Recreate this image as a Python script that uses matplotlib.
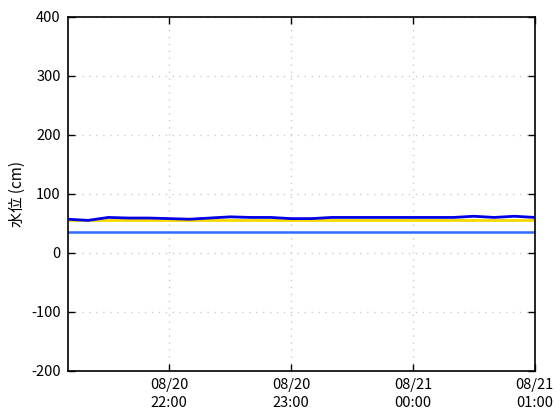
import matplotlib
matplotlib.use("Agg")
import matplotlib.pyplot as plt
import matplotlib.dates as mdates
import pandas as pd

plt.rcParams["font.family"] = ["Noto Sans CJK JP", "DejaVu Sans"]
plt.rcParams["axes.unicode_minus"] = False

# water level readings, every 10 minutes
times = pd.date_range("2023-08-20 21:10", "2023-08-21 01:00", freq="10min")
level = [57, 55, 60, 59, 59, 58, 57, 59, 61, 60, 60, 58,
         58, 60, 60, 60, 60, 60, 60, 60, 62, 60, 62, 60]
yellow_level = 55
blue_level = 35

fig = plt.figure(figsize=(5.6, 4.2), dpi=100)
ax = fig.add_axes([0.121, 0.117, 0.834, 0.843])

ax.axhline(yellow_level, color="#f5d800", lw=2, zorder=2)
ax.axhline(blue_level, color="#2f6cff", lw=1.8, zorder=2)
ax.plot(times, level, color="#0000e6", lw=2, zorder=3)

ax.set_xlim(times[0], times[-1])
ax.set_ylim(-200, 400)
ax.set_yticks(range(-200, 401, 100))
ticks = pd.date_range("2023-08-20 22:00", "2023-08-21 01:00", freq="1h")
ax.set_xticks(ticks)
ax.xaxis.set_major_formatter(mdates.DateFormatter("%m/%d\n%H:%M"))
for lbl in ax.get_xticklabels():
    lbl.set_linespacing(1.35)

ax.grid(True, color="#cccccc", linestyle=(0, (1, 4)), lw=1)
ax.tick_params(direction="in", length=5, width=1, top=True, right=True,
               labelsize=10.5, colors="black", pad=5)
for s in ax.spines.values():
    s.set_linewidth(1.2)
ax.set_ylabel("水位 (cm)", fontsize=11)

fig.savefig("out.png", dpi=100)
